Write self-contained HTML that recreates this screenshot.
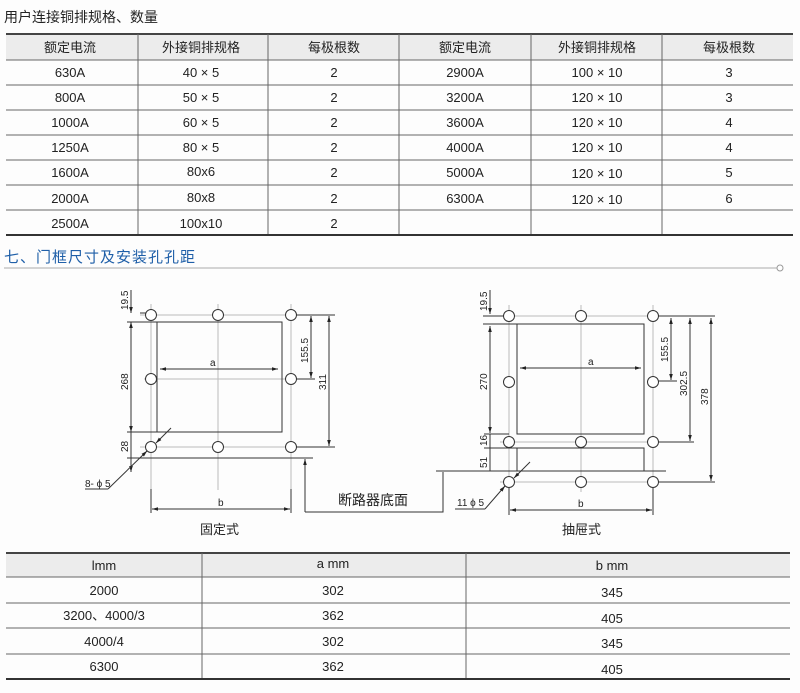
<!DOCTYPE html>
<html><head><meta charset="utf-8"><style>
body{margin:0;background:#fdfdfd;width:800px;height:693px;overflow:hidden;font-family:"Liberation Sans","Noto Sans CJK SC",sans-serif;}
svg{position:absolute;left:0;top:0}
text{font-family:"Liberation Sans","Noto Sans CJK SC",sans-serif;fill:#222}
</style></head><body>
<svg width="800" height="693" viewBox="0 0 800 693" xmlns="http://www.w3.org/2000/svg">
<defs>
<marker id="ar" viewBox="0 0 10 10" refX="10" refY="5" markerWidth="6" markerHeight="6" orient="auto-start-reverse"><path d="M0,2 L10,5 L0,8z" fill="#222"/></marker>
</defs>
<text x="4" y="22" font-size="14">用户连接铜排规格、数量</text>
<!-- top table -->
<rect x="6" y="34" width="787" height="26" fill="#ececec"/>
<line x1="6" y1="34" x2="793" y2="34" stroke="#444" stroke-width="2"/>
<g stroke="#666" stroke-width="1">
<line x1="6" y1="60" x2="793" y2="60"/><line x1="6" y1="85" x2="793" y2="85"/><line x1="6" y1="110" x2="793" y2="110"/><line x1="6" y1="135" x2="793" y2="135"/><line x1="6" y1="160" x2="793" y2="160"/><line x1="6" y1="185" x2="793" y2="185"/><line x1="6" y1="210" x2="793" y2="210"/>
<line x1="138" y1="34" x2="138" y2="235"/><line x1="268" y1="34" x2="268" y2="235"/><line x1="399" y1="34" x2="399" y2="235"/><line x1="531" y1="34" x2="531" y2="235"/><line x1="662" y1="34" x2="662" y2="235"/>
</g>
<line x1="6" y1="235" x2="793" y2="235" stroke="#333" stroke-width="2"/>
<g font-size="13" text-anchor="middle">
<text x="70" y="52">额定电流</text><text x="201" y="52">外接铜排规格</text><text x="334" y="52">每极根数</text><text x="465" y="52">额定电流</text><text x="597" y="52">外接铜排规格</text><text x="729" y="52">每极根数</text>
<text x="70" y="77">630A</text><text x="201" y="77">40 × 5</text><text x="334" y="77">2</text><text x="465" y="77">2900A</text><text x="597" y="77">100 × 10</text><text x="729" y="77">3</text>
<text x="70" y="102">800A</text><text x="201" y="102">50 × 5</text><text x="334" y="102">2</text><text x="465" y="102">3200A</text><text x="597" y="102">120 × 10</text><text x="729" y="102">3</text>
<text x="70" y="127">1000A</text><text x="201" y="127">60 × 5</text><text x="334" y="127">2</text><text x="465" y="127">3600A</text><text x="597" y="127">120 × 10</text><text x="729" y="127">4</text>
<text x="70" y="152">1250A</text><text x="201" y="152">80 × 5</text><text x="334" y="152">2</text><text x="465" y="152">4000A</text><text x="597" y="152">120 × 10</text><text x="729" y="152">4</text>
<text x="70" y="177">1600A</text><text x="201" y="176">80x6</text><text x="334" y="177">2</text><text x="465" y="177">5000A</text><text x="597" y="178">120 × 10</text><text x="729" y="177">5</text>
<text x="70" y="203">2000A</text><text x="201" y="202">80x8</text><text x="334" y="203">2</text><text x="465" y="203">6300A</text><text x="597" y="204">120 × 10</text><text x="729" y="203">6</text>
<text x="70" y="228">2500A</text><text x="201" y="228">100x10</text><text x="334" y="228">2</text>
</g>
<text x="4" y="262" font-size="15" style="fill:#1f5fa8" letter-spacing="1">七、门框尺寸及安装孔孔距</text>
<line x1="4" y1="268" x2="777" y2="268" stroke="#aaa" stroke-width="1"/>
<circle cx="780" cy="268" r="3" fill="#fff" stroke="#999"/>

<!-- fixed diagram -->
<g stroke="#bbb" stroke-width="1">
<line x1="151" y1="304" x2="151" y2="490"/><line x1="218" y1="304" x2="218" y2="490"/><line x1="291" y1="304" x2="291" y2="490"/>
<line x1="140" y1="315" x2="300" y2="315"/><line x1="140" y1="447" x2="300" y2="447"/><line x1="144" y1="379" x2="298" y2="379"/>
</g>
<g stroke="#333" stroke-width="1" fill="none">
<rect x="157" y="322" width="125" height="110"/>
<line x1="127" y1="322" x2="165" y2="322"/><line x1="127" y1="432" x2="157" y2="432"/><line x1="127" y1="458" x2="313" y2="458"/>
<line x1="131" y1="322" x2="131" y2="432" marker-start="url(#ar)" marker-end="url(#ar)"/>
<line x1="131" y1="432" x2="131" y2="472" marker-end="url(#ar)"/>
<line x1="131" y1="290" x2="131" y2="313" marker-end="url(#ar)"/>
<line x1="140" y1="313" x2="148" y2="313"/>
<line x1="291" y1="315" x2="335" y2="315"/><line x1="296" y1="379" x2="315" y2="379"/><line x1="296" y1="447" x2="335" y2="447"/>
<line x1="311" y1="316" x2="311" y2="378" marker-start="url(#ar)" marker-end="url(#ar)"/>
<line x1="329" y1="316" x2="329" y2="446" marker-start="url(#ar)" marker-end="url(#ar)"/>
<line x1="160" y1="369" x2="278" y2="369" marker-start="url(#ar)" marker-end="url(#ar)"/>
<line x1="151" y1="489" x2="151" y2="513"/><line x1="291" y1="489" x2="291" y2="513"/>
<line x1="152" y1="509" x2="290" y2="509" marker-start="url(#ar)" marker-end="url(#ar)"/>
<line x1="108" y1="489" x2="147" y2="451" marker-end="url(#ar)"/>
<line x1="85" y1="489" x2="108" y2="489"/>
<line x1="171" y1="428" x2="156" y2="443" marker-end="url(#ar)"/>
<polyline points="305,512 443,512 443,472"/>
<line x1="305" y1="512" x2="305" y2="459" marker-end="url(#ar)"/>
</g>
<g fill="#fff" stroke="#333" stroke-width="1">
<circle cx="151" cy="315" r="5.5"/><circle cx="218" cy="315" r="5.5"/><circle cx="291" cy="315" r="5.5"/>
<circle cx="151" cy="379" r="5.5"/><circle cx="291" cy="379" r="5.5"/>
<circle cx="151" cy="447" r="5.5"/><circle cx="218" cy="447" r="5.5"/><circle cx="291" cy="447" r="5.5"/>
</g>
<g font-size="10">
<text transform="translate(128,310) rotate(-90)">19.5</text>
<text transform="translate(128,390) rotate(-90)">268</text>
<text transform="translate(128,452) rotate(-90)">28</text>
<text transform="translate(308,363) rotate(-90)">155.5</text>
<text transform="translate(326,390) rotate(-90)">311</text>
<text x="210" y="366">a</text><text x="218" y="506">b</text>
<text x="85" y="487">8- ϕ 5</text>
</g>
<text x="338" y="505" font-size="14">断路器底面</text>
<text x="200" y="534" font-size="13">固定式</text>

<!-- drawer diagram -->
<g stroke="#bbb" stroke-width="1">
<line x1="509" y1="305" x2="509" y2="515"/><line x1="581" y1="305" x2="581" y2="492"/><line x1="653" y1="305" x2="653" y2="515"/>
<line x1="500" y1="316" x2="660" y2="316"/><line x1="500" y1="442" x2="660" y2="442"/><line x1="500" y1="482" x2="660" y2="482"/>
</g>
<g stroke="#333" stroke-width="1" fill="none">
<rect x="517" y="324" width="127" height="110"/>
<polyline points="517,471 517,448 644,448 644,471"/>
<line x1="436" y1="471" x2="666" y2="471"/>
<line x1="483" y1="324" x2="517" y2="324"/><line x1="484" y1="434" x2="509" y2="434"/><line x1="484" y1="448" x2="517" y2="448"/>
<line x1="483" y1="316" x2="505" y2="316"/>
<line x1="490" y1="290" x2="490" y2="314" marker-end="url(#ar)"/>
<line x1="490" y1="326" x2="490" y2="433" marker-start="url(#ar)" marker-end="url(#ar)"/>
<line x1="490" y1="434" x2="490" y2="471"/>
<line x1="520" y1="368" x2="641" y2="368" marker-start="url(#ar)" marker-end="url(#ar)"/>
<line x1="653" y1="316" x2="715" y2="316"/><line x1="658" y1="381" x2="677" y2="381"/><line x1="658" y1="442" x2="694" y2="442"/><line x1="658" y1="482" x2="715" y2="482"/>
<line x1="671" y1="318" x2="671" y2="380" marker-start="url(#ar)" marker-end="url(#ar)"/>
<line x1="690" y1="318" x2="690" y2="441" marker-start="url(#ar)" marker-end="url(#ar)"/>
<line x1="711" y1="318" x2="711" y2="481" marker-start="url(#ar)" marker-end="url(#ar)"/>
<line x1="510" y1="510" x2="652" y2="510" marker-start="url(#ar)" marker-end="url(#ar)"/>
<line x1="509" y1="488" x2="509" y2="515"/><line x1="653" y1="488" x2="653" y2="515"/>
<line x1="485" y1="509" x2="505" y2="486" marker-end="url(#ar)"/>
<line x1="455" y1="509" x2="485" y2="509"/>
<line x1="530" y1="462" x2="514" y2="478" marker-end="url(#ar)"/>
</g>
<g fill="#fff" stroke="#333" stroke-width="1">
<circle cx="509" cy="316" r="5.5"/><circle cx="581" cy="316" r="5.5"/><circle cx="653" cy="316" r="5.5"/>
<circle cx="509" cy="382" r="5.5"/><circle cx="653" cy="382" r="5.5"/>
<circle cx="509" cy="442" r="5.5"/><circle cx="581" cy="442" r="5.5"/><circle cx="653" cy="442" r="5.5"/>
<circle cx="509" cy="482" r="5.5"/><circle cx="581" cy="482" r="5.5"/><circle cx="653" cy="482" r="5.5"/>
</g>
<g font-size="10">
<text transform="translate(487,311) rotate(-90)">19.5</text>
<text transform="translate(487,390) rotate(-90)">270</text>
<text transform="translate(487,446) rotate(-90)">16</text>
<text transform="translate(487,468) rotate(-90)">51</text>
<text transform="translate(668,362) rotate(-90)">155.5</text>
<text transform="translate(687,396) rotate(-90)">302.5</text>
<text transform="translate(708,405) rotate(-90)">378</text>
<text x="588" y="365">a</text><text x="578" y="507">b</text>
<text x="457" y="506">11 ϕ 5</text>
</g>
<text x="562" y="534" font-size="13">抽屉式</text>

<!-- bottom table -->
<rect x="6" y="553" width="784" height="24" fill="#ececec"/>
<line x1="6" y1="553" x2="790" y2="553" stroke="#444" stroke-width="2"/>
<g stroke="#666" stroke-width="1">
<line x1="6" y1="577" x2="790" y2="577"/><line x1="6" y1="603" x2="790" y2="603"/><line x1="6" y1="628" x2="790" y2="628"/><line x1="6" y1="654" x2="790" y2="654"/>
<line x1="202" y1="553" x2="202" y2="679"/><line x1="466" y1="553" x2="466" y2="679"/>
</g>
<line x1="6" y1="679" x2="790" y2="679" stroke="#333" stroke-width="2"/>
<g font-size="13" text-anchor="middle">
<text x="104" y="570">lmm</text><text x="333" y="568">a mm</text><text x="612" y="570">b mm</text>
<text x="104" y="595">2000</text><text x="333" y="595">302</text><text x="612" y="597">345</text>
<text x="104" y="620">3200、4000/3</text><text x="333" y="620">362</text><text x="612" y="623">405</text>
<text x="104" y="646">4000/4</text><text x="333" y="646">302</text><text x="612" y="648">345</text>
<text x="104" y="671">6300</text><text x="333" y="671">362</text><text x="612" y="674">405</text>
</g>
</svg>
</body></html>
